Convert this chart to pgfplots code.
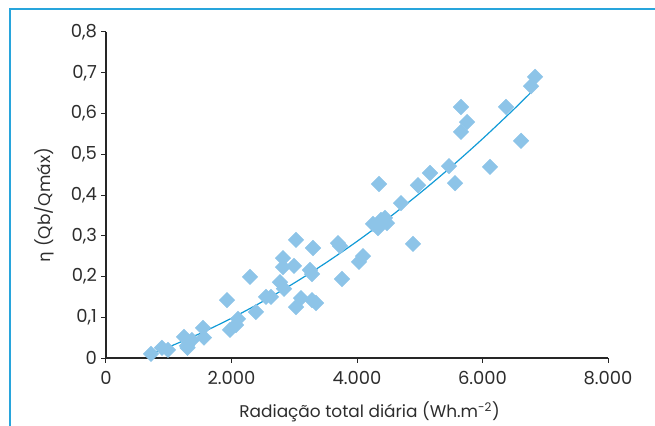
\documentclass[border=0pt]{standalone}
\usepackage{fontspec}
\setmainfont{Poppins}
\newfontfamily\grk{DejaVu Sans}
\usepackage{pgfplots}
\pgfplotsset{compat=1.18}
\definecolor{pt}{RGB}{141,196,232}
\definecolor{ln}{RGB}{18,155,215}
\definecolor{fr}{RGB}{40,165,220}
\definecolor{tx}{RGB}{45,45,45}
\begin{document}
\begin{tikzpicture}[x=1bp,y=1bp]
\path[use as bounding box] (-106,-67) rectangle (549,358);
\draw[fr, line width=1.6bp] (-96,-80) -- (-96,349) -- (560,349);
\begin{axis}[
  at={(0,0)}, anchor=south west,
  scale only axis, width=502bp, height=326bp,
  xmin=0, xmax=8000, ymin=0, ymax=0.8,
  axis x line=bottom, axis y line=left,
  axis line style={-, line width=1.2bp, color=black!85},
  tick style={line width=1bp, color=black!85},
  tick align=outside, major tick length=4.5bp,
  xtick={0,2000,4000,6000,8000},
  xticklabels={0,2.000,4.000,6.000,8.000},
  ytick={0,0.1,0.2,0.3,0.4,0.5,0.6,0.7,0.8},
  yticklabels={0,{0,1},{0,2},{0,3},{0,4},{0,5},{0,6},{0,7},{0,8}},
  scaled x ticks=false,
  tick label style={font=\fontsize{18}{18}\selectfont, text=tx},
  xticklabel style={yshift=-5bp},
  yticklabel style={xshift=-1bp},
  label style={font=\fontsize{17}{17}\selectfont, text=tx},
  xlabel={Radiação total diária (Wh.m\textsuperscript{-2})},
  ylabel={{\grk η} (Qb/Qmáx)},
  xlabel style={at={(axis description cs:0.525,-0.165)}, anchor=center},
  ylabel style={at={(axis description cs:-0.1235,0.469)}, anchor=center, rotate=0},
  clip=false,
]
\addplot[only marks, mark=square*, mark size=5.5bp, color=pt,
  mark options={rotate=45, fill=pt, draw=none}] coordinates {
(717,0.010) (892,0.025) (988,0.020) (1243,0.052) (1291,0.030) (1300,0.025)
(1370,0.044) (1546,0.074) (1562,0.050) (1928,0.142) (1976,0.069) (2072,0.081)
(2104,0.096) (2295,0.199) (2390,0.113) (2550,0.150) (2630,0.150) (2773,0.186)
(2821,0.245) (2821,0.223) (2837,0.170) (2996,0.226) (3028,0.290) (3028,0.125)
(3108,0.147) (3251,0.216) (3283,0.206) (3283,0.142) (3299,0.270) (3347,0.135)
(3697,0.282) (3729,0.275) (3761,0.194) (4032,0.236) (4096,0.250) (4351,0.427)
(4255,0.329) (4335,0.319) (4382,0.339) (4446,0.344) (4478,0.331) (4701,0.380)
(4892,0.280) (4972,0.424) (5163,0.454) (5466,0.471) (5562,0.429) (5657,0.555)
(5657,0.616) (5753,0.579) (6120,0.469) (6375,0.616) (6614,0.533) (6773,0.667)
(6837,0.690)
};
\addplot[ln, line width=1.2bp, no marks, smooth] coordinates {
(720,0.0100) (1000,0.0270) (1500,0.0603) (2000,0.0976) (2500,0.1389)
(3000,0.1841) (3500,0.2332) (4000,0.2862) (4500,0.3432) (5000,0.4042)
(5500,0.4690) (6000,0.5378) (6500,0.6105) (6780,0.6530)
};
\end{axis}
\end{tikzpicture}
\end{document}
